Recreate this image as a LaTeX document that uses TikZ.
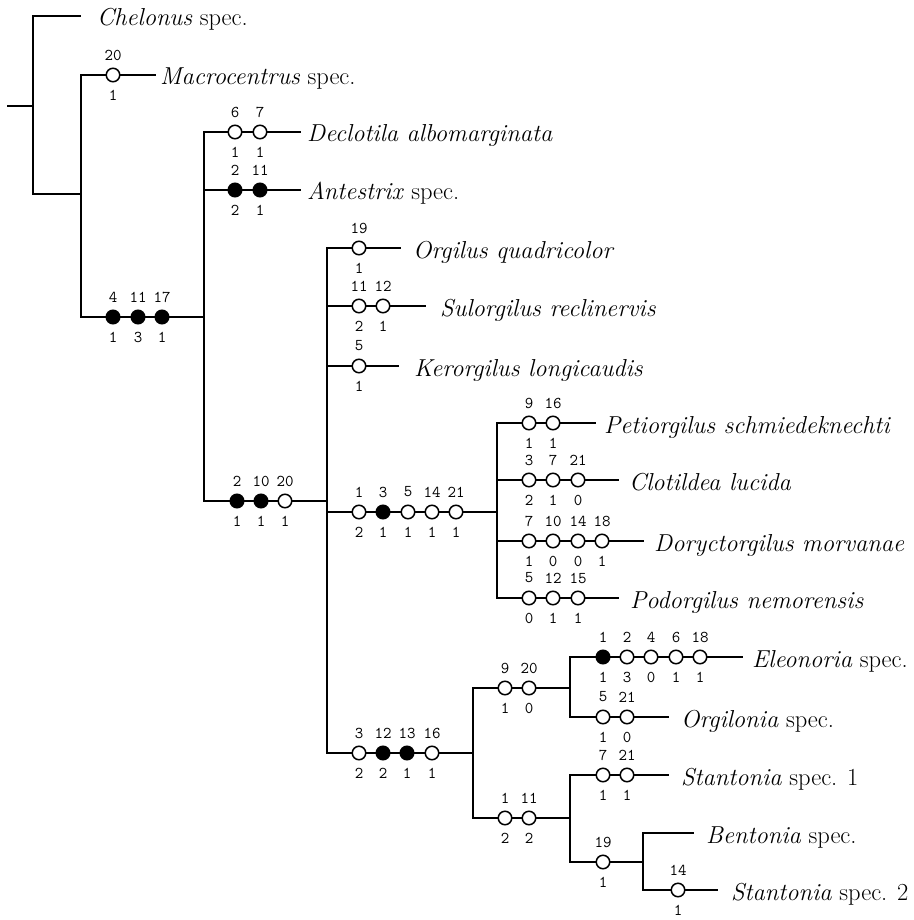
\documentclass[tikz,border=0pt]{standalone}
\usetikzlibrary{calc}
\tikzset{
  br/.style={line width=1.8pt, line cap=rect},
  oc/.style={circle, draw, line width=1.5pt, fill=white, minimum size=13.5pt, inner sep=0pt},
  fc/.style={oc, fill=black},
  num/.style={font=\fontsize{16.5}{16.5}\ttfamily, inner sep=0pt},
  taxon/.style={font=\fontsize{24.5}{24.5}\selectfont, inner sep=0pt, anchor=base west},
}
\newcommand\chmarks[2]{%
  \foreach \cx/\cs/\ct/\cb in {#2}{%
    \node[\cs] (m\cx x#1) at (\cx,#1) {};
    \node[num] (a\cx x#1) at (\cx,{#1-20}) {\ct};
    \node[num] (b\cx x#1) at (\cx,{#1+20}) {\cb};
  }}
\begin{document}
\begin{tikzpicture}[x=1pt,y=-1pt]
\useasboundingbox (0,0) rectangle (913,920);
% junction and end coordinates
\coordinate (r0) at (8,106);   \coordinate (r1) at (33,106);
\coordinate (a1) at (33,16);   \coordinate (a2) at (33,194);
\coordinate (eChe) at (80,16);
\coordinate (b1) at (81,75);   \coordinate (b2) at (81,194);  \coordinate (b3) at (81,317);
\coordinate (eMac) at (155,75);
\coordinate (c1) at (204,132); \coordinate (c2) at (204,190); \coordinate (c3) at (204,317); \coordinate (c4) at (204,501);
\coordinate (eDec) at (300,132); \coordinate (eAnt) at (300,190);
\coordinate (d1) at (327,248); \coordinate (d2) at (327,306); \coordinate (d3) at (327,366);
\coordinate (d4) at (327,501); \coordinate (d5) at (327,512); \coordinate (d6) at (327,753);
\coordinate (eOrg) at (400,248); \coordinate (eSul) at (425,306); \coordinate (eKer) at (398,366);
\coordinate (f1) at (497,423); \coordinate (f2) at (497,480); \coordinate (f3) at (497,512);
\coordinate (f4) at (497,541); \coordinate (f5) at (497,598);
\coordinate (ePet) at (595,423); \coordinate (eClo) at (618,480); \coordinate (eDor) at (643,541); \coordinate (ePod) at (618,598);
\coordinate (g1) at (473,688); \coordinate (g2) at (473,753); \coordinate (g3) at (473,818);
\coordinate (h1) at (570,657); \coordinate (h2) at (570,688); \coordinate (h3) at (570,717);
\coordinate (eEle) at (742,657); \coordinate (eOrl) at (668,717);
\coordinate (i1) at (570,775); \coordinate (i2) at (570,818); \coordinate (i3) at (570,862);
\coordinate (eSt1) at (668,775);
\coordinate (k1) at (643,833); \coordinate (k2) at (643,862); \coordinate (k3) at (643,890);
\coordinate (eBen) at (693,833); \coordinate (eSt2) at (717,890);
% branches
\draw[br] (r0) -- (r1);
\draw[br] (a1) -- (a2);
\draw[br] (a1) -- (eChe);
\draw[br] (a2) -- (b2);
\draw[br] (b1) -- (b3);
\draw[br] (b1) -- (eMac);
\draw[br] (b3) -- (c3);
\draw[br] (c1) -- (c4);
\draw[br] (c1) -- (eDec);
\draw[br] (c2) -- (eAnt);
\draw[br] (c4) -- (d4);
\draw[br] (d1) -- (d6);
\draw[br] (d1) -- (eOrg);
\draw[br] (d2) -- (eSul);
\draw[br] (d3) -- (eKer);
\draw[br] (d5) -- (f3);
\draw[br] (f1) -- (f5);
\draw[br] (f1) -- (ePet);
\draw[br] (f2) -- (eClo);
\draw[br] (f4) -- (eDor);
\draw[br] (f5) -- (ePod);
\draw[br] (d6) -- (g2);
\draw[br] (g1) -- (g3);
\draw[br] (g1) -- (h2);
\draw[br] (h1) -- (h3);
\draw[br] (h1) -- (eEle);
\draw[br] (h3) -- (eOrl);
\draw[br] (g3) -- (i2);
\draw[br] (i1) -- (i3);
\draw[br] (i1) -- (eSt1);
\draw[br] (i3) -- (k2);
\draw[br] (k1) -- (k3);
\draw[br] (k1) -- (eBen);
\draw[br] (k3) -- (eSt2);
% character state changes
\chmarks{75}{113/oc/20/1}
\chmarks{317}{113/fc/4/1,138/fc/11/3,162/fc/17/1}
\chmarks{132}{235/oc/6/1,260/oc/7/1}
\chmarks{190}{235/fc/2/2,260/fc/11/1}
\chmarks{501}{237/fc/2/1,261/fc/10/1,285/oc/20/1}
\chmarks{248}{359/oc/19/1}
\chmarks{306}{359/oc/11/2,383/oc/12/1}
\chmarks{366}{359/oc/5/1}
\chmarks{512}{359/oc/1/2,383/fc/3/1,408/oc/5/1,432/oc/14/1,456/oc/21/1}
\chmarks{423}{529/oc/9/1,553/oc/16/1}
\chmarks{480}{529/oc/3/2,553/oc/7/1,578/oc/21/0}
\chmarks{541}{529/oc/7/1,553/oc/10/0,578/oc/14/0,602/oc/18/1}
\chmarks{598}{529/oc/5/0,553/oc/12/1,578/oc/15/1}
\chmarks{753}{359/oc/3/2,383/fc/12/2,407/fc/13/1,432/oc/16/1}
\chmarks{688}{505/oc/9/1,529/oc/20/0}
\chmarks{657}{603/fc/1/1,627/oc/2/3,651/oc/4/0,676/oc/6/1,700/oc/18/1}
\chmarks{717}{603/oc/5/1,627/oc/21/0}
\chmarks{818}{505/oc/1/2,529/oc/11/2}
\chmarks{775}{603/oc/7/1,627/oc/21/1}
\chmarks{862}{603/oc/19/1}
\chmarks{890}{678/oc/14/1}
% taxa
\node[taxon] (tChe) at (97,26)  {\textit{Chelonus} spec.};
\node[taxon] (tMac) at (160,85) {\textit{Macrocentrus} spec.};
\node[taxon] (tDec) at (307,142) {\textit{Declotila albomarginata}};
\node[taxon] (tAnt) at (307,200) {\textit{Antestrix} spec.};
\node[taxon] (tOrg) at (413,258) {\textit{Orgilus quadricolor}};
\node[taxon] (tSul) at (440,316) {\textit{Sulorgilus reclinervis}};
\node[taxon] (tKer) at (414,376) {\textit{Kerorgilus longicaudis}};
\node[taxon] (tPet) at (604,433) {\textit{Petiorgilus schmiedeknechti}};
\node[taxon] (tClo) at (629,490) {\textit{Clotildea lucida}};
\node[taxon] (tDor) at (654,551) {\textit{Doryctorgilus morvanae}};
\node[taxon] (tPod) at (630,608) {\textit{Podorgilus nemorensis}};
\node[taxon] (tEle) at (752,667) {\textit{Eleonoria} spec.};
\node[taxon] (tOrl) at (681,727) {\textit{Orgilonia} spec.};
\node[taxon] (tSt1) at (681,785) {\textit{Stantonia} spec. 1};
\node[taxon] (tBen) at (706,843) {\textit{Bentonia} spec.};
\node[taxon] (tSt2) at (731,900) {\textit{Stantonia} spec. 2};
\end{tikzpicture}
\end{document}
